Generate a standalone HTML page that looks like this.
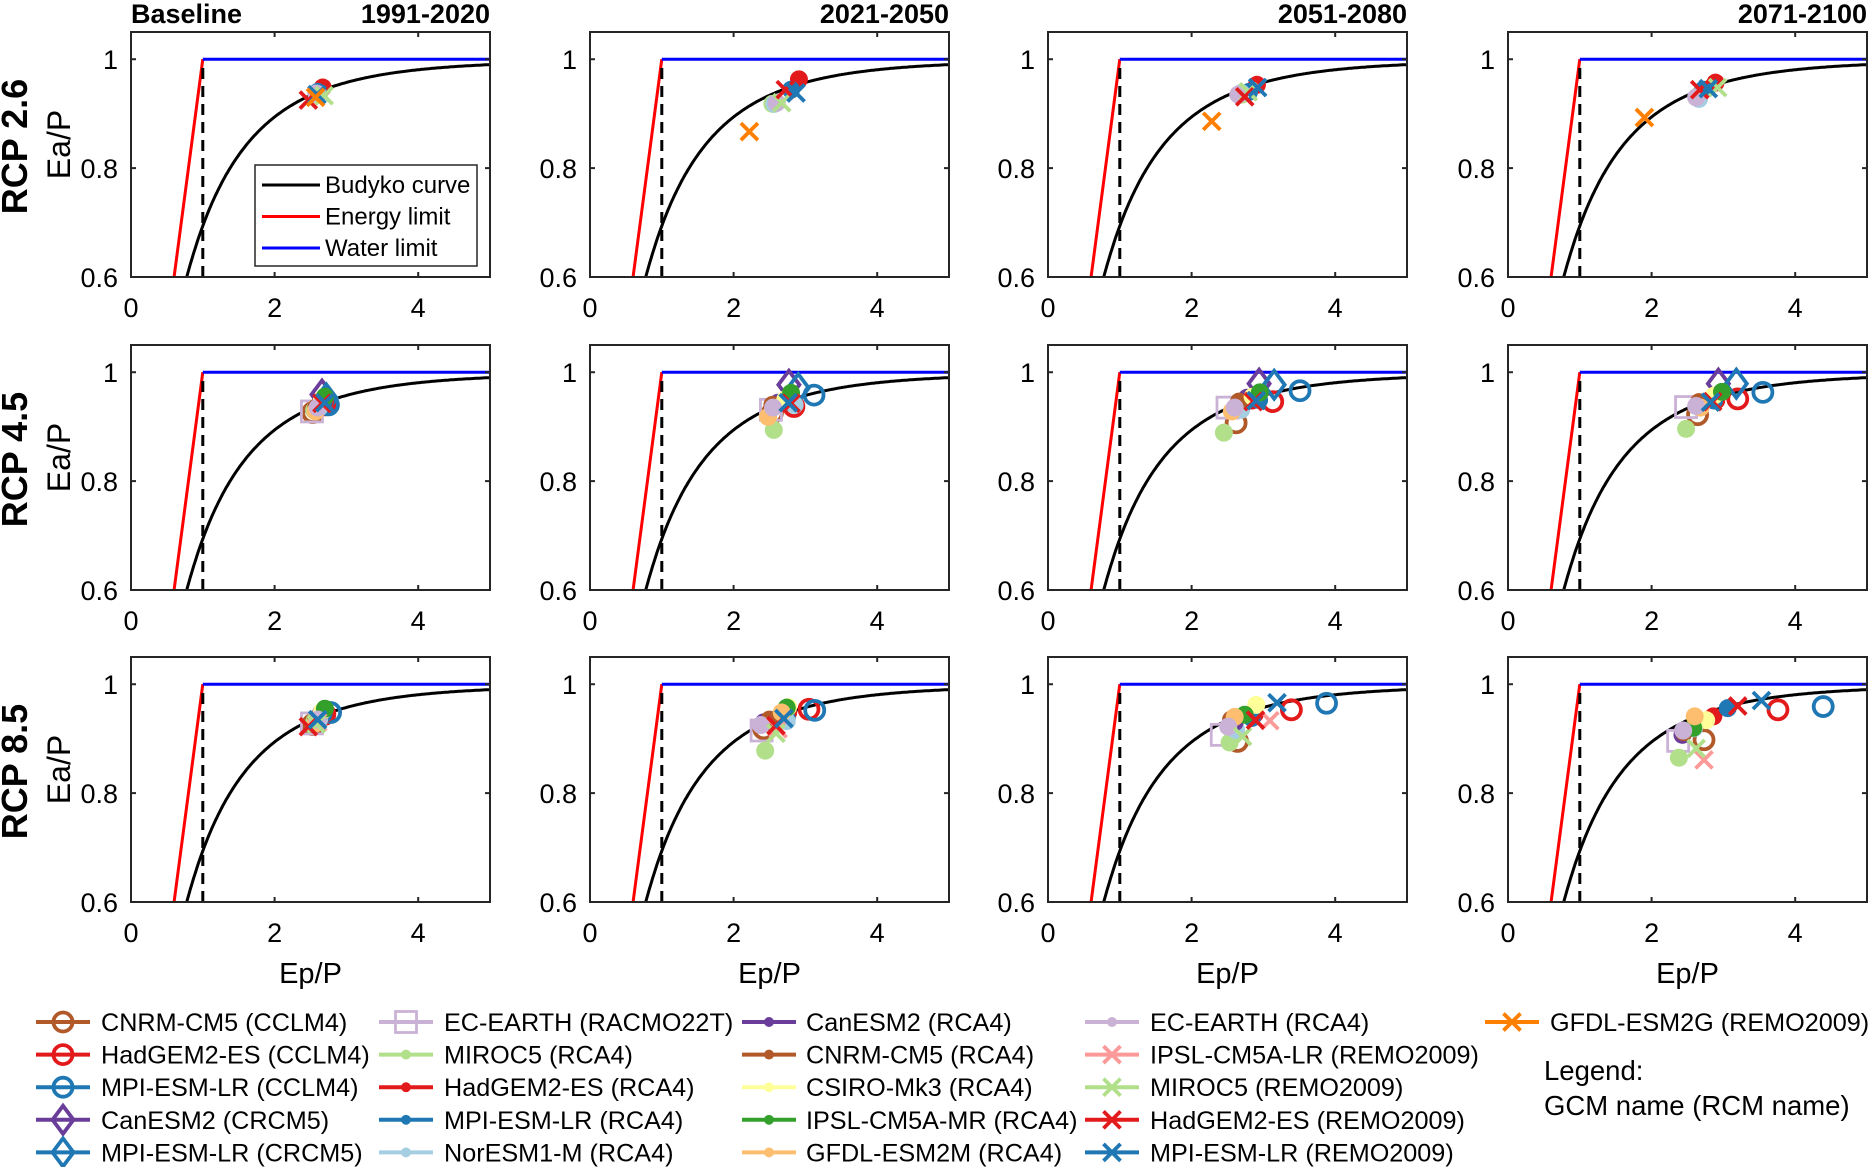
<!DOCTYPE html>
<html><head><meta charset="utf-8"><style>
body{margin:0;background:#fff}
svg{display:block;font-family:"Liberation Sans",Arial,sans-serif}
</style></head><body>
<svg id="fig" xmlns="http://www.w3.org/2000/svg" width="1870" height="1167" viewBox="0 0 1870 1167"></svg>
<script>
// ---- data: model list ----
const modelNames = ["CNRM-CM5 (CCLM4)","HadGEM2-ES (CCLM4)","MPI-ESM-LR (CCLM4)","CanESM2 (CRCM5)","MPI-ESM-LR (CRCM5)","EC-EARTH (RACMO22T)","MIROC5 (RCA4)","HadGEM2-ES (RCA4)","MPI-ESM-LR (RCA4)","NorESM1-M (RCA4)","CanESM2 (RCA4)","CNRM-CM5 (RCA4)","CSIRO-Mk3 (RCA4)","IPSL-CM5A-MR (RCA4)","GFDL-ESM2M (RCA4)","EC-EARTH (RCA4)","IPSL-CM5A-LR (REMO2009)","MIROC5 (REMO2009)","HadGEM2-ES (REMO2009)","MPI-ESM-LR (REMO2009)","GFDL-ESM2G (REMO2009)"];
const modelColors = ["#b15928","#e31a1c","#1f78b4","#6a3d9a","#1f78b4","#cab2d6","#b2df8a","#e31a1c","#1f78b4","#a6cee3","#6a3d9a","#b15928","#ffff99","#33a02c","#fdbf6f","#cab2d6","#fb9a99","#b2df8a","#e31a1c","#1f78b4","#ff7f00"];
const modelMarkers = ["o","o","o","d","d","s","dot","dot","dot","dot","dot","dot","dot","dot","dot","dot","x","x","x","x","x"];
const scenarios = ["RCP 2.6","RCP 4.5","RCP 8.5"];
const periods = ["1991-2020","2021-2050","2051-2080","2071-2100"];
const xTicks = [0,2,4];
const yTicks = [0.6,0.8,1];
const yTickLabels = ["0.6","0.8","1"];
const n = null;
// RCP 2.6
const x26_p0 = [n,n,n,n,n,n,2.62,2.67,2.60,2.60,n,n,n,n,n,2.58,n,2.69,2.47,2.59,2.57];
const y26_p0 = [n,n,n,n,n,n,0.938,0.948,0.940,0.936,n,n,n,n,n,0.937,n,0.933,0.925,0.935,0.930];
const x26_p1 = [n,n,n,n,n,n,2.54,2.91,2.80,2.57,n,n,n,n,n,2.60,n,2.67,2.72,2.87,2.22];
const y26_p1 = [n,n,n,n,n,n,0.918,0.963,0.944,0.918,n,n,n,n,n,0.920,n,0.920,0.944,0.938,0.867];
const x26_p2 = [n,n,n,n,n,n,2.70,2.91,2.80,2.69,n,n,n,n,n,2.65,n,2.79,2.74,2.92,2.28];
const y26_p2 = [n,n,n,n,n,n,0.935,0.953,0.940,0.938,n,n,n,n,n,0.935,n,0.940,0.931,0.948,0.886];
const x26_p3 = [n,n,n,n,n,n,2.67,2.89,2.72,2.66,n,n,n,n,n,2.62,n,2.92,2.67,2.79,1.90];
const y26_p3 = [n,n,n,n,n,n,0.935,0.957,0.944,0.927,n,n,n,n,n,0.930,n,0.948,0.944,0.946,0.893];
// RCP 4.5
const x45_p0 = [2.53,2.70,2.75,2.66,2.72,2.52,2.55,2.70,2.68,2.62,2.65,2.58,2.66,2.70,2.57,2.60,n,n,2.66,2.70,n];
const y45_p0 = [0.926,0.940,0.940,0.959,0.952,0.928,0.930,0.945,0.945,0.935,0.948,0.935,0.950,0.955,0.928,0.935,n,n,0.943,0.944,n];
const x45_p1 = [2.54,2.84,3.12,2.77,2.90,2.52,2.56,2.78,2.74,2.85,2.62,2.54,2.72,2.80,2.48,2.55,n,n,2.80,2.76,n];
const y45_p1 = [0.925,0.937,0.958,0.977,0.971,0.931,0.894,0.945,0.946,0.940,0.944,0.940,0.950,0.962,0.918,0.935,n,n,0.943,0.944,n];
const x45_p2 = [2.62,3.13,3.51,2.94,3.15,2.50,2.45,2.84,2.94,2.69,2.77,2.66,2.85,2.95,2.56,2.60,n,n,2.86,2.90,n];
const y45_p2 = [0.907,0.946,0.966,0.979,0.977,0.935,0.889,0.948,0.949,0.931,0.953,0.946,0.955,0.963,0.928,0.935,n,n,0.946,0.948,n];
const x45_p3 = [2.64,3.20,3.55,2.93,3.18,2.48,2.48,2.90,2.87,2.69,2.64,2.66,2.87,2.98,2.68,2.62,n,n,2.85,2.82,n];
const y45_p3 = [0.922,0.951,0.963,0.979,0.979,0.936,0.896,0.948,0.948,0.938,0.940,0.945,0.957,0.964,0.935,0.938,n,n,0.946,0.945,n];
// RCP 8.5
const x85_p0 = [2.53,2.70,2.78,n,n,2.52,2.55,2.70,2.68,2.62,2.65,2.58,2.66,2.70,2.57,2.60,2.60,2.58,2.47,2.60,n];
const y85_p0 = [0.926,0.945,0.948,n,n,0.928,0.930,0.945,0.945,0.935,0.948,0.935,0.950,0.955,0.928,0.935,0.930,0.927,0.922,0.935,n];
const x85_p1 = [2.42,3.05,3.13,n,n,2.39,2.44,2.76,2.74,2.74,2.42,2.50,2.76,2.74,2.67,2.38,2.62,2.59,2.59,2.70,n];
const y85_p1 = [0.918,0.954,0.952,n,n,0.915,0.878,0.948,0.937,0.932,0.930,0.935,0.958,0.957,0.948,0.925,0.918,0.910,0.924,0.937,n];
const x85_p2 = [2.64,3.39,3.88,n,n,2.42,2.53,2.88,2.84,2.62,2.60,2.55,2.90,2.74,2.60,2.51,3.09,2.71,2.89,3.19,n];
const y85_p2 = [0.895,0.953,0.965,n,n,0.907,0.893,0.945,0.938,0.916,0.930,0.935,0.962,0.944,0.940,0.922,0.933,0.904,0.934,0.966,n];
const x85_p3 = [2.73,3.76,4.39,n,n,2.37,2.38,2.86,3.06,2.59,2.43,2.45,2.76,2.58,2.60,2.44,2.73,2.62,3.20,3.53,n];
const y85_p3 = [0.898,0.953,0.959,n,n,0.896,0.865,0.941,0.956,0.919,0.907,0.912,0.934,0.920,0.941,0.915,0.861,0.882,0.960,0.970,n];

const panelX = [[x26_p0,x26_p1,x26_p2,x26_p3],[x45_p0,x45_p1,x45_p2,x45_p3],[x85_p0,x85_p1,x85_p2,x85_p3]];
const panelY = [[y26_p0,y26_p1,y26_p2,y26_p3],[y45_p0,y45_p1,y45_p2,y45_p3],[y85_p0,y85_p1,y85_p2,y85_p3]];

const svg = document.getElementById('fig');
const NS = "http://www.w3.org/2000/svg";
function mk(tag, attrs, parent){
  const e = document.createElementNS(NS, tag);
  for (const k in attrs) e.setAttribute(k, attrs[k]);
  (parent||svg).appendChild(e);
  return e;
}
const colLeft = [131, 590, 1048, 1508];
const rowTop = [32, 345, 657];
const PW = 359, PH = 245;
const XMAX = 5, YMIN = 0.6, YMAX = 1.05;

function drawMarker(g, m, cx, cy, color, s){
  s = s || 1;
  let e;
  if (m === "o") {
    e = mk('circle',{cx:cx,cy:cy,r:9.5*s,fill:'none',stroke:color,'stroke-width':3.8},g);
  } else if (m === "dot") {
    e = mk('circle',{cx:cx,cy:cy,r:9*s,fill:color},g);
  } else if (m === "d") {
    const h = 14*s, w = 10.5*s;
    e = mk('polygon',{points:`${cx},${cy-h} ${cx+w},${cy} ${cx},${cy+h} ${cx-w},${cy}`,fill:'none',stroke:color,'stroke-width':3.8},g);
  } else if (m === "s") {
    const h = 10.5*s;
    e = mk('rect',{x:cx-h,y:cy-h,width:2*h,height:2*h,fill:'none',stroke:color,'stroke-width':2.8},g);
  } else {
    const h = 8.5*s;
    e = mk('path',{d:`M${cx-h},${cy-h}L${cx+h},${cy+h}M${cx-h},${cy+h}L${cx+h},${cy-h}`,stroke:color,'stroke-width':3.8,fill:'none'},g);
  }
  return e;
}

function budyko(p){ return Math.sqrt(p*Math.tanh(1/p)*(1-Math.exp(-p))); }

for (let r=0;r<3;r++){
  for (let c=0;c<4;c++){
    const L = colLeft[c], T = rowTop[r];
    const sx = v => L + v/XMAX*PW;
    const sy = v => T + (YMAX - v)/(YMAX-YMIN)*PH;
    const g = mk('g',{});
    
    
    const defs = mk('clipPath',{id:`cp${r}${c}`},g);
    mk('rect',{x:L,y:T,width:PW,height:PH},defs);
    const cg = mk('g',{'clip-path':`url(#cp${r}${c})`},g);
    const el = mk('line',{x1:sx(0.6),y1:sy(0.6),x2:sx(1),y2:sy(1),stroke:'#ff0000','stroke-width':3},cg);
    
    
    const wl = mk('line',{x1:sx(1),y1:sy(1),x2:sx(5),y2:sy(1),stroke:'#0000ff','stroke-width':3},cg);
    
    
    const dl = mk('line',{x1:sx(1),y1:sy(0.6),x2:sx(1),y2:sy(0.995),stroke:'#000','stroke-width':3,'stroke-dasharray':'11,7'},cg);
    
    
    let d = '';
    for (let i=0;i<=200;i++){ const p = 0.7 + i*(4.3/200); d += (i?'L':'M') + sx(p).toFixed(1) + ',' + sy(budyko(p)).toFixed(1); }
    const bc = mk('path',{d:d,fill:'none',stroke:'#000','stroke-width':3},cg);
    
    
    const xs = panelX[r][c], ys = panelY[r][c];
    for (let i=0;i<modelNames.length;i++){
      if (xs[i]===null || ys[i]===null) continue;
      const mEl = drawMarker(cg, modelMarkers[i], sx(xs[i]), sy(ys[i]), modelColors[i]);
      
      
    }
    const fr = mk('rect',{x:L,y:T,width:PW,height:PH,fill:'none',stroke:'#262626','stroke-width':2},g);
    
    
    xTicks.forEach(v=>{
      mk('line',{x1:sx(v),y1:T+PH,x2:sx(v),y2:T+PH-5,stroke:'#262626','stroke-width':2},g);
      mk('line',{x1:sx(v),y1:T,x2:sx(v),y2:T+5,stroke:'#262626','stroke-width':2},g);
      const t = mk('text',{x:sx(v),y:T+PH+40,'font-size':27,'text-anchor':'middle',fill:'#000'},g);
      t.textContent = String(v);
      
      
    });
    yTicks.forEach((v,k)=>{
      mk('line',{x1:L,y1:sy(v),x2:L+5,y2:sy(v),stroke:'#262626','stroke-width':2},g);
      mk('line',{x1:L+PW,y1:sy(v),x2:L+PW-5,y2:sy(v),stroke:'#262626','stroke-width':2},g);
      const t = mk('text',{x:L-13,y:sy(v)+10,'font-size':27,'text-anchor':'end',fill:'#000'},g);
      t.textContent = yTickLabels[k];
      
      
    });
    if (r===0){
      const t = mk('text',{x:L+PW,y:23,'font-size':27,'font-weight':'bold','text-anchor':'end'});
      t.textContent = periods[c];
      
      
    }
    if (r===2){
      const t = mk('text',{x:L+PW/2,y:983,'font-size':29,'text-anchor':'middle'});
      t.textContent = 'Ep/P';
      
      
    }
    if (c===0){
      const cy = T + PH/2 - 8;
      const t1 = mk('text',{x:0,y:0,'font-size':36,'font-weight':'bold','text-anchor':'middle',transform:`translate(27,${cy}) rotate(-90)`});
      t1.textContent = scenarios[r];
      
      
      const t2 = mk('text',{x:0,y:0,'font-size':32,'text-anchor':'middle',transform:`translate(70,${cy-2}) rotate(-90)`});
      t2.textContent = 'Ea/P';
      
      
    }
  }
}
const bt = mk('text',{x:131,y:23,'font-size':27,'font-weight':'bold'});
bt.textContent = 'Baseline';



const lg = mk('g',{});


mk('rect',{x:255,y:165,width:222,height:101,fill:'#fff',stroke:'#262626','stroke-width':1.5},lg);
const limNames = ["Budyko curve","Energy limit","Water limit"];
const limColors = ["#000","#ff0000","#0000ff"];
limNames.forEach((nm,i)=>{
  const y = 185 + i*31.5;
  mk('line',{x1:262,y1:y,x2:320,y2:y,stroke:limColors[i],'stroke-width':3},lg);
  const t = mk('text',{x:325,y:y+8,'font-size':24},lg);
  t.textContent = nm;
  
  
});

const legCols = [[36,101],[379,444],[742,806],[1085,1150],[1485,1550]];
const legG = mk('g',{});


modelNames.forEach((nm,i)=>{
  const col = Math.floor(i/5), row = i%5;
  const [lx, tx] = legCols[col];
  const y = 1022 + row*32.6;
  const e = mk('g',{},legG);
  
  
  mk('line',{x1:lx,y1:y,x2:lx+54,y2:y,stroke:modelColors[i],'stroke-width':4},e);
  drawMarker(e, modelMarkers[i], lx+27, y, modelColors[i], modelMarkers[i]==="dot"?0.55:1);
  const t = mk('text',{x:tx,y:y+9,'font-size':25.2},e);
  t.textContent = nm;
});
const l1 = mk('text',{x:1544,y:1080,'font-size':27.5});
l1.textContent = 'Legend:';


const l2 = mk('text',{x:1544,y:1115,'font-size':27.5});
l2.textContent = 'GCM name (RCM name)';


</script>
</body></html>
